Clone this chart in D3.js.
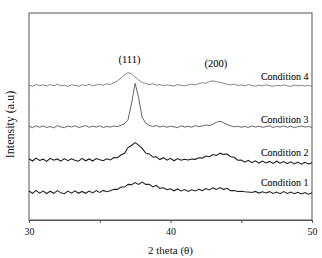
<!DOCTYPE html>
<html>
<head>
<meta charset="utf-8">
<script src="https://cdn.jsdelivr.net/npm/d3@7"></script>
<style>
  body { margin: 0; background: #fff; }
  text { font-family: "Liberation Serif", "DejaVu Serif", serif; fill: #111; }
</style>
</head>
<body>
<svg id="chart"></svg>
<script>
// 2 theta grid (degrees)
const theta = [
  30, 30.25, 30.5, 30.75, 31, 31.25, 31.5, 31.75, 32, 32.25, 32.5, 32.75, 33,
  33.25, 33.5, 33.75, 34, 34.25, 34.5, 34.75, 35, 35.25, 35.5, 35.75, 36,
  36.25, 36.5, 36.75, 37, 37.25, 37.5, 37.75, 38, 38.25, 38.5, 38.75, 39,
  39.25, 39.5, 39.75, 40, 40.25, 40.5, 40.75, 41, 41.25, 41.5, 41.75, 42,
  42.25, 42.5, 42.75, 43, 43.25, 43.5, 43.75, 44, 44.25, 44.5, 44.75, 45,
  45.25, 45.5, 45.75, 46, 46.25, 46.5, 46.75, 47, 47.25, 47.5, 47.75, 48,
  48.25, 48.5, 48.75, 49, 49.25, 49.5, 49.75, 50
];

// intensities (a.u., offset stacked)
const cond4 = [
  65.2, 64.6, 65.5, 64.9, 65.3, 64.7, 65.4, 64.8, 65.6, 64.9, 65.1, 64.5, 65.3,
  65.0, 64.6, 65.4, 64.9, 65.5, 64.8, 65.2, 65.6, 65.1, 65.8, 65.5, 66.3,
  67.2, 68.6, 70.1, 71.2, 70.6, 69.0, 67.6, 66.5, 65.9, 65.4, 65.8, 65.1,
  65.5, 64.8, 65.3, 65.0, 64.7, 65.4, 65.1, 64.8, 65.3, 65.6, 65.2, 65.9,
  66.3, 66.1, 66.9, 67.2, 66.8, 66.5, 66.0, 65.6, 65.2, 65.7, 64.9, 65.3,
  64.8, 65.4, 65.0, 64.6, 65.2, 64.8, 65.3, 64.9, 64.6, 65.1, 64.8, 65.3,
  64.9, 64.5, 65.2, 64.8, 65.1, 64.7, 65.0, 64.6
];
const cond3 = [
  45.3, 44.6, 45.5, 44.8, 45.4, 44.7, 45.2, 44.5, 45.6, 45.0, 44.6, 45.4, 44.9,
  45.5, 44.7, 45.1, 45.6, 44.8, 45.3, 44.9, 45.5, 44.7, 45.2, 44.9, 45.4,
  45.1, 45.8, 46.5, 48.5, 56.5, 66.0, 59.0, 49.5, 46.8, 45.7, 45.2, 45.6,
  44.9, 45.4, 44.8, 45.3, 45.0, 44.6, 45.5, 44.9, 45.3, 44.8, 45.6, 45.1,
  45.4, 45.9, 45.6, 46.3, 47.2, 47.7, 47.0, 46.1, 45.5, 45.0, 45.3, 44.8,
  45.2, 44.7, 45.4, 44.9, 45.3, 44.8, 45.1, 45.5, 44.7, 45.2, 44.9, 45.4,
  44.8, 45.3, 44.6, 45.1, 45.4, 44.9, 45.2, 44.7
];
const cond2 = [
  29.6, 28.5, 29.9, 28.8, 29.4, 28.3, 29.8, 28.9, 29.5, 28.4, 29.7, 28.7, 29.6,
  28.9, 28.4, 29.8, 28.6, 29.5, 28.5, 29.7, 29.1, 28.6, 29.6, 29.0, 30.2,
  30.1, 31.4, 32.2, 35.0, 36.0, 37.4, 36.2, 34.6, 32.3, 31.9, 30.4, 30.5,
  29.2, 30.1, 28.9, 29.8, 28.6, 29.7, 28.9, 29.3, 29.0, 29.5, 29.3, 30.1,
  29.9, 30.9, 30.6, 31.6, 31.2, 32.3, 31.7, 31.9, 30.6, 30.3, 28.9, 29.0,
  27.9, 28.8, 27.7, 28.6, 27.5, 28.5, 27.6, 28.3, 27.3, 28.4, 27.4, 28.2,
  27.2, 28.1, 27.1, 28.0, 27.0, 27.9, 27.1, 27.7
];
const cond1 = [
  14.0, 12.9, 14.3, 13.0, 14.0, 12.8, 13.9, 12.9, 14.2, 13.1, 12.7, 14.0, 13.0,
  14.1, 12.9, 13.8, 12.9, 14.0, 13.1, 14.2, 13.3, 14.3, 13.7, 14.1, 14.9,
  14.8, 15.9, 15.9, 17.2, 17.1, 18.1, 17.2, 18.3, 17.2, 17.2, 16.0, 16.7,
  15.3, 15.6, 14.6, 15.1, 14.1, 15.0, 14.0, 14.7, 13.8, 14.6, 14.0, 14.8,
  14.2, 15.2, 14.5, 15.5, 14.8, 15.7, 14.7, 15.3, 14.2, 14.2, 13.8, 13.9,
  13.6, 13.5, 13.3, 13.8, 13.0, 13.6, 13.1, 13.7, 12.8, 13.5, 12.7, 13.7,
  12.8, 13.5, 12.7, 13.4, 12.6, 13.3, 12.5, 13.2
];

const seriesNames = ['Condition 1', 'Condition 2', 'Condition 3', 'Condition 4'];
const seriesValues = [cond1, cond2, cond3, cond4];
const seriesColors = ['#222', '#1a1a1a', '#555', '#777'];
const labelLevel = [16.5, 31, 47, 67.5];

const peakLabels = ['(111)', '(200)'];
const peakTheta = [37.1, 43.2];
const peakLevel = [76, 74];

const xTicks = [30, 35, 40, 45, 50];

const w = 322;
const h = 258;
const m = { top: 13, right: 10, bottom: 38, left: 29 };

const svg = d3.select('#chart')
  .attr('width', w)
  .attr('height', h);

const x = d3.scaleLinear()
  .domain([30, 50])
  .range([m.left, w - m.right]);

const y = d3.scaleLinear()
  .domain([0, 100])
  .range([h - m.bottom, m.top]);

// frame
svg.append('rect')
  .attr('x', m.left)
  .attr('y', m.top)
  .attr('width', w - m.left - m.right)
  .attr('height', h - m.top - m.bottom)
  .attr('fill', 'none')
  .attr('stroke', '#555')
  .attr('stroke-width', 1);

const xAxis = d3.axisBottom(x)
  .tickValues(xTicks)
  .tickSize(3)
  .tickFormat(d => d % 10 === 0 ? d : '');

const gx = svg.append('g')
  .attr('transform', `translate(0, ${h - m.bottom})`)
  .call(xAxis);
gx.select('.domain').attr('stroke', '#555');
gx.selectAll('.tick line').attr('stroke', '#555');
gx.selectAll('.tick text')
  .attr('font-size', 10)
  .attr('font-family', '"Liberation Serif", serif')
  .attr('fill', '#111')
  .attr('dy', '0.85em');

const line = d3.line()
  .x((d, i) => x(theta[i]))
  .y(d => y(d));

svg.selectAll('path.trace')
  .data(seriesValues)
  .enter()
  .append('path')
  .attr('class', 'trace')
  .attr('d', line)
  .attr('fill', 'none')
  .attr('stroke', (d, i) => seriesColors[i])
  .attr('stroke-width', (d, i) => i < 2 ? 1.05 : 0.9);

svg.selectAll('text.cond')
  .data(seriesNames)
  .enter()
  .append('text')
  .attr('class', 'cond')
  .attr('x', x(49.75))
  .attr('y', (d, i) => y(labelLevel[i]))
  .attr('text-anchor', 'end')
  .attr('font-size', 10)
  .attr('stroke', '#111')
  .attr('stroke-width', 0.1)
  .text(d => d);

svg.selectAll('text.peak')
  .data(peakLabels)
  .enter()
  .append('text')
  .attr('class', 'peak')
  .attr('x', (d, i) => x(peakTheta[i]))
  .attr('y', (d, i) => y(peakLevel[i]))
  .attr('text-anchor', 'middle')
  .attr('font-size', 10.5)
  .attr('stroke', '#111')
  .attr('stroke-width', 0.1)
  .text(d => d);

svg.append('text')
  .attr('x', x(40))
  .attr('y', h - 4)
  .attr('text-anchor', 'middle')
  .attr('font-size', 11)
  .text('2 theta (θ)');

svg.append('text')
  .attr('transform', `translate(14, ${(m.top + h - m.bottom) / 2 + 8}) rotate(-90)`)
  .attr('text-anchor', 'middle')
  .attr('font-size', 12)
  .text('Intensity (a.u)');
</script>
</body>
</html>
